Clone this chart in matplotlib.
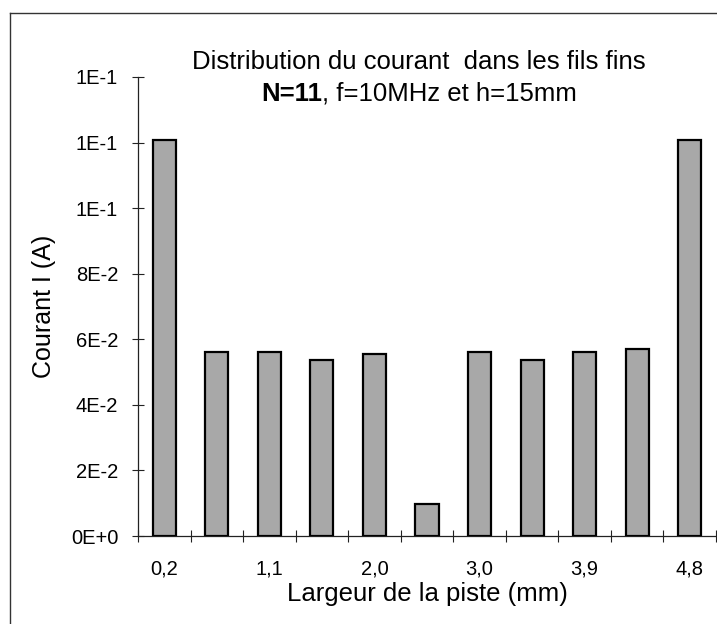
import numpy as np
import matplotlib
matplotlib.use("Agg")
import matplotlib.pyplot as plt
from matplotlib.lines import Line2D
from matplotlib.ticker import FuncFormatter

plt.rcParams['font.family'] = ['Liberation Sans', 'DejaVu Sans']

# current in each thin wire across the track width
largeur = ['0,2', '0,66', '1,1', '1,55', '2,0', '2,5', '3,0', '3,45', '3,9', '4,35', '4,8']
courant = [0.1208, 0.0561, 0.0561, 0.0538, 0.0554, 0.0098,
           0.0561, 0.0538, 0.0561, 0.0569, 0.1208]
yticks = [0.0, 0.02, 0.04, 0.06, 0.08, 0.10, 0.12, 0.14]

W, H = 717, 624
fig = plt.figure(figsize=(W / 100, H / 100), dpi=100)
ax = fig.add_axes([138 / W, 88 / H, 578 / W, 459 / H])

x = np.arange(len(courant))
ax.bar(x, courant, width=0.44, color='#a8a8a8', edgecolor='black', linewidth=1.6, zorder=3)

ax.set_xlim(-0.5, len(courant) - 0.5)
ax.set_ylim(0, 0.14)

for s in ['top', 'right']:
    ax.spines[s].set_visible(False)
for s in ['left', 'bottom']:
    ax.spines[s].set_linewidth(0.9)
    ax.spines[s].set_color('#222222')


def sci(v, pos):
    m, e = f"{v:.0E}".split('E')
    return f"{m}E{int(e):+d}"


ax.set_yticks(yticks)
ax.yaxis.set_major_formatter(FuncFormatter(sci))
ax.tick_params(axis='y', direction='inout', length=8.6, width=0.8, color='#222222',
               labelsize=14.5, pad=10)

# ticks between categories, labels on every other category
ax.set_xticks(np.arange(len(courant) + 1) - 0.5)
ax.set_xticklabels([])
ax.set_xticks(x[::2], minor=True)
ax.set_xticklabels(largeur[::2], minor=True)
ax.tick_params(axis='x', which='major', direction='inout', length=8.6, width=0.8, color='#222222')
ax.tick_params(axis='x', which='minor', length=0, labelsize=14.5, pad=17)

# titles and axis labels
fig.text(419 / W, 1 - 69 / H, "Distribution du courant  dans les fils fins",
         ha='center', va='baseline', fontsize=18.5)
r = fig.canvas.get_renderer()
t1 = fig.text(0, 1 - 101 / H, "N=11", fontweight='bold', va='baseline', fontsize=18.5)
t2 = fig.text(0, 1 - 101 / H, ", f=10MHz et h=15mm", va='baseline', fontsize=18.5)
w1 = t1.get_window_extent(r).width
w2 = t2.get_window_extent(r).width
x0 = 419 - (w1 + w2) / 2
t1.set_x(x0 / W)
t2.set_x((x0 + w1) / W)

fig.text(427 / W, 1 - 601 / H, "Largeur de la piste (mm)", ha='center', va='baseline', fontsize=18.5)
fig.text(44 / W, 1 - 306 / H, "Courant I (A)", rotation=90, ha='center', va='center', fontsize=18)

# chart frame
fig.add_artist(Line2D([10 / W, 10 / W], [0, 1 - 13 / H], transform=fig.transFigure,
                      color='#333333', lw=1))
fig.add_artist(Line2D([10 / W, 1], [1 - 13 / H, 1 - 13 / H], transform=fig.transFigure,
                      color='#333333', lw=1))

fig.savefig('out.png', dpi=100)
